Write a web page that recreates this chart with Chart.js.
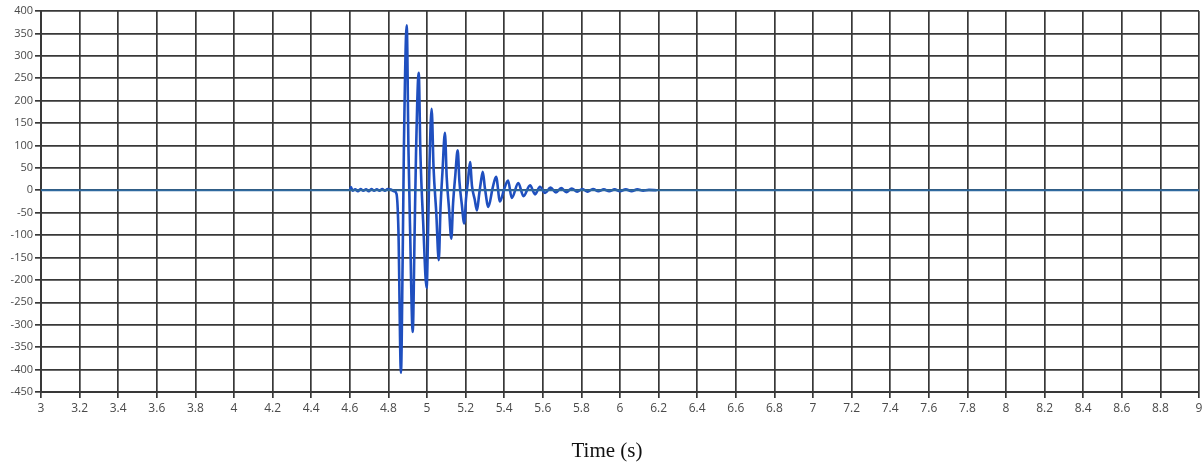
<!DOCTYPE html>
<html>
<head>
<meta charset="utf-8">
<script src="https://cdn.jsdelivr.net/npm/chart.js@4.4.1/dist/chart.umd.min.js"></script>
<style>
  html, body { margin: 0; padding: 0; background: #ffffff; }
  #wrap { width: 1203px; height: 466px; }
</style>
</head>
<body>
<div id="wrap"><canvas id="c" width="1203" height="466"></canvas></div>
<script>
// ---- data ----
const xLabelText = "Time (s)";
const xMin = 3, xMax = 9, xStep = 0.2;
const yMin = -450, yMax = 400, yStep = 50;

const baseT = [3, 9];
const baseV = [0, 0];

const sigT = [4.600, 4.606, 4.614, 4.628, 4.642, 4.656, 4.670, 4.684, 4.698, 4.712,
  4.726, 4.740, 4.754, 4.768, 4.782, 4.796, 4.812, 4.830, 4.842, 4.852,
  4.865, 4.874, 4.880, 4.895, 4.904, 4.912, 4.926, 4.936, 4.943, 4.957,
  4.966, 4.980, 4.998, 5.007, 5.013, 5.024, 5.034, 5.048, 5.061, 5.070,
  5.080, 5.093, 5.102, 5.114, 5.126, 5.135, 5.146, 5.159, 5.168, 5.180,
  5.193, 5.202, 5.212, 5.223, 5.233, 5.247, 5.259, 5.270, 5.278, 5.289,
  5.300, 5.318, 5.340, 5.358, 5.378, 5.400, 5.420, 5.439, 5.473, 5.500,
  5.534, 5.560, 5.585, 5.612, 5.640, 5.668, 5.695, 5.722, 5.750, 5.778,
  5.805, 5.832, 5.860, 5.888, 5.916, 5.944, 5.972, 6.000, 6.030, 6.060,
  6.090, 6.120, 6.150, 6.190];
const sigV = [0, 7, -1, 2, -2, 3, -1, 2, -2, 3,
  -1, 2, -1, 3, -1, 3, 2, -2, -8, -90,
  -407, -150, 85, 368, 90, -80, -316, -90, 80, 262,
  80, -70, -218, -60, 60, 182, 50, -50, -156, -40,
  40, 128, 30, -40, -108, -30, 30, 89, 20, -30,
  -74, -20, 20, 63, 10, -20, -45, -10, 15, 41,
  5, -37, 5, 30, -25, 3, 22, -17, 16, -13,
  11, -9, 8, -6, 6, -5, 5, -4, 4, -3,
  3, -3, 3, -2, 2, -2, 2, -2, 2, -2,
  2, -1, 1, 0];

const toPts = (t, v) => t.map((x, i) => ({ x: x, y: v[i] }));

const gridColor = '#383838';
const tickColor = '#4a4a4a';

const titlePlugin = {
  id: 'xTitle',
  afterDraw(chart) {
    const ctx = chart.ctx;
    ctx.save();
    ctx.font = '21px "Liberation Serif", "Times New Roman", serif';
    ctx.fillStyle = '#111';
    ctx.textAlign = 'center';
    ctx.textBaseline = 'alphabetic';
    ctx.fillText(xLabelText, 607, 457);
    ctx.restore();
  }
};

new Chart(document.getElementById('c'), {
  type: 'line',
  data: {
    datasets: [
      {
        data: toPts(baseT, baseV),
        borderColor: '#2f6a9f',
        borderWidth: 2,
        pointRadius: 0,
        tension: 0
      },
      {
        data: toPts(sigT, sigV),
        borderColor: '#1f4fbf',
        borderWidth: 2.6,
        pointRadius: 0,
        cubicInterpolationMode: 'monotone'
      }
    ]
  },
  options: {
    responsive: false,
    animation: false,
    events: [],
    layout: { padding: { left: 0, top: 11, right: 0, bottom: 0 } },
    plugins: { legend: { display: false }, tooltip: { enabled: false } },
    scales: {
      x: {
        type: 'linear',
        min: xMin, max: xMax,
        afterFit(s) { s.height = 74; s.paddingRight = 4; },
        grid: { color: gridColor, lineWidth: 1.7, tickLength: 6, tickColor: gridColor, drawTicks: true },
        border: { color: gridColor, width: 2 },
        ticks: {
          stepSize: xStep,
          autoSkip: false,
          maxRotation: 0,
          padding: 3,
          color: tickColor,
          font: { family: '"Open Sans", "Noto Sans", sans-serif', size: 12 },
          callback: v => String(Math.round(v * 10) / 10)
        }
      },
      y: {
        type: 'linear',
        min: yMin, max: yMax,
        afterFit(s) { s.width = 41; },
        grid: { color: gridColor, lineWidth: 1.7, tickLength: 6, tickColor: gridColor, drawTicks: true },
        border: { color: gridColor, width: 2 },
        ticks: {
          stepSize: yStep,
          autoSkip: false,
          padding: 2,
          color: tickColor,
          font: { family: '"Open Sans", "Noto Sans", sans-serif', size: 11 },
          callback: v => String(Math.round(v))
        }
      }
    }
  },
  plugins: [titlePlugin]
});
</script>
</body>
</html>
